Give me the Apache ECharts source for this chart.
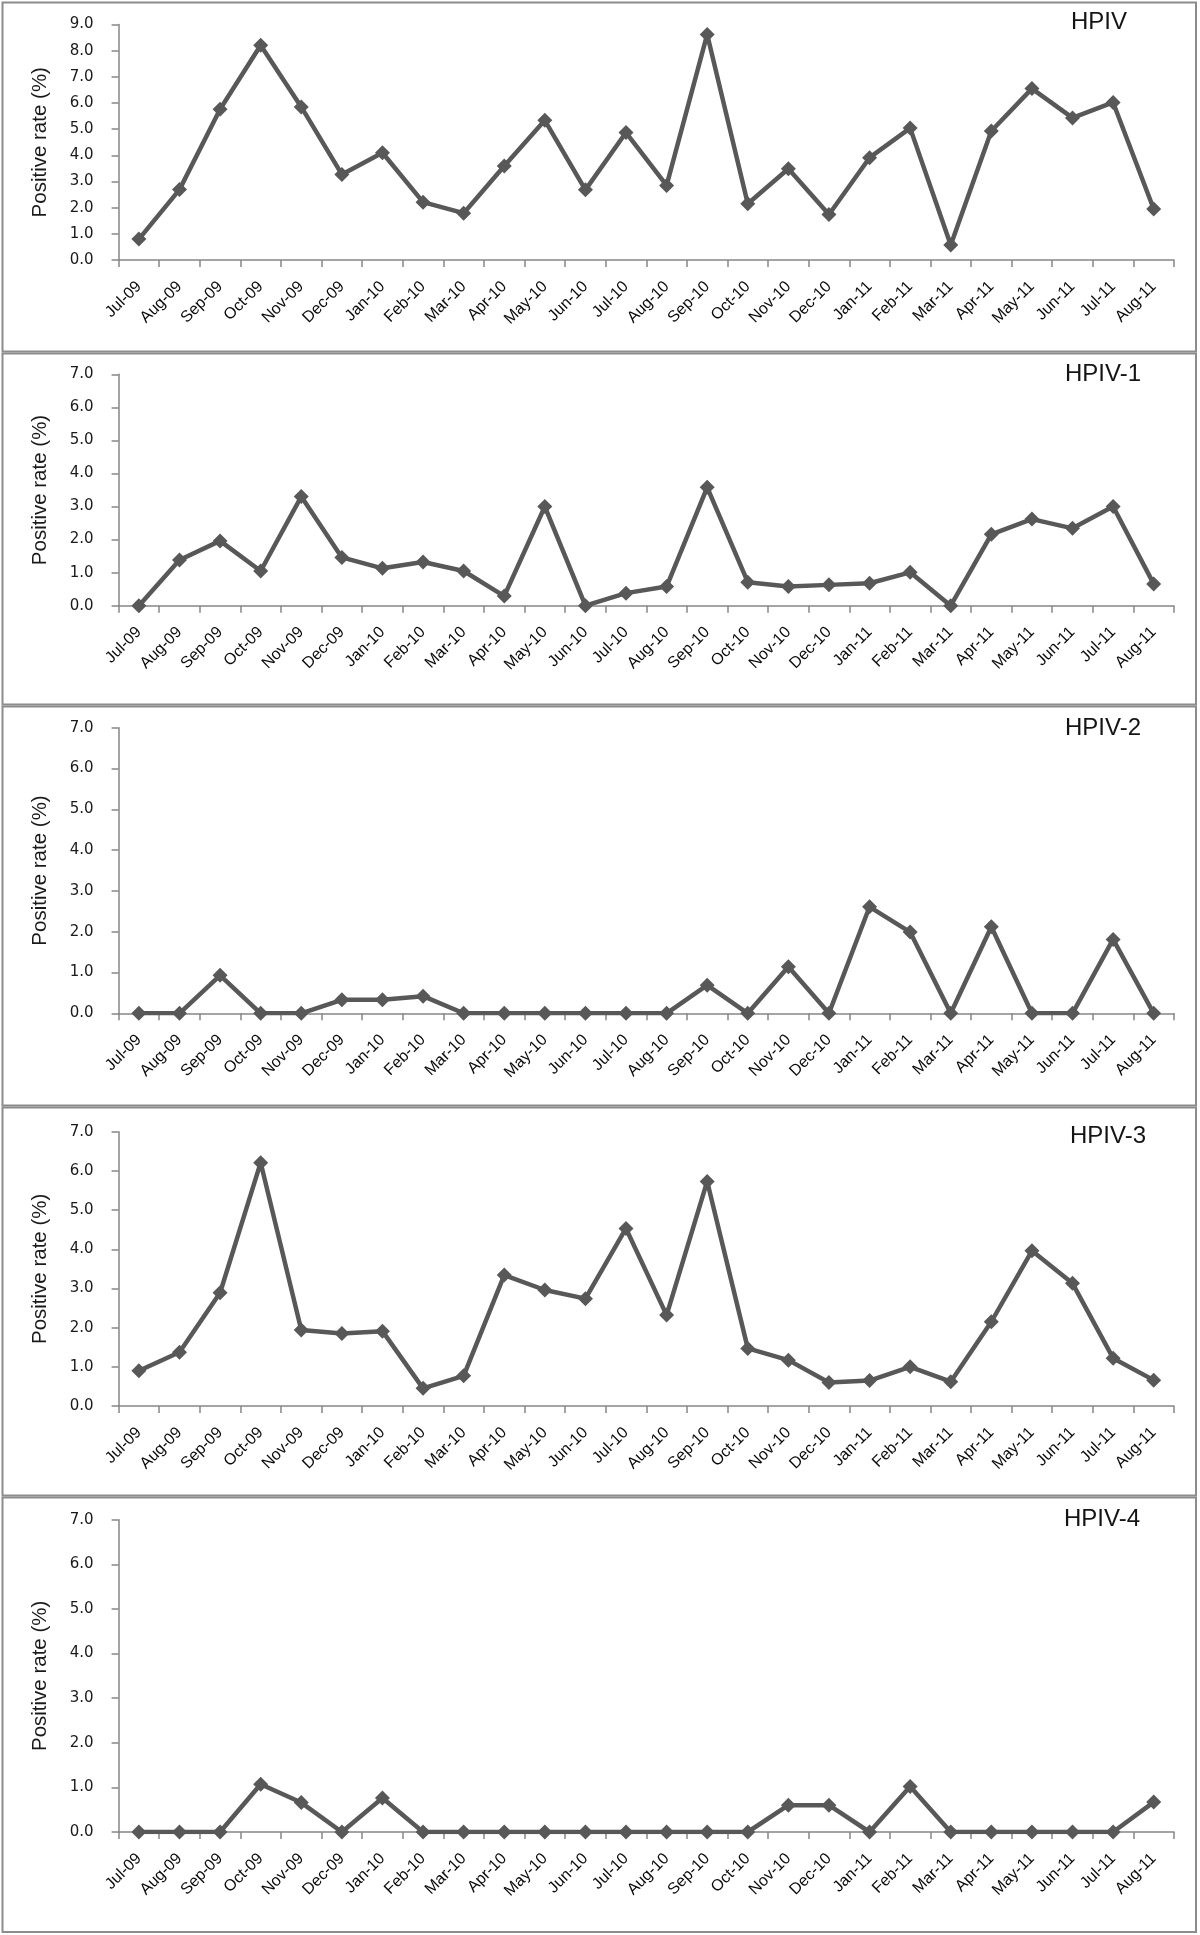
<!DOCTYPE html>
<html>
<head>
<meta charset="utf-8">
<script src="https://cdn.jsdelivr.net/npm/echarts@6/dist/echarts.min.js"></script>
<style>
html,body{margin:0;padding:0;background:#fff;}
#c{width:1200px;height:1935px;}
</style>
</head>
<body>
<div id="c"></div>
<script>
var categories = ['Jul-09','Aug-09','Sep-09','Oct-09','Nov-09','Dec-09','Jan-10','Feb-10','Mar-10','Apr-10','May-10','Jun-10','Jul-10','Aug-10','Sep-10','Oct-10','Nov-10','Dec-10','Jan-11','Feb-11','Mar-11','Apr-11','May-11','Jun-11','Jul-11','Aug-11'];
var hpiv  = [0.80,2.69,5.76,8.21,5.85,3.27,4.10,2.21,1.79,3.59,5.34,2.68,4.87,2.85,8.62,2.15,3.49,1.74,3.91,5.04,0.57,4.93,6.55,5.43,6.02,1.95];
var hpiv1 = [0,1.38,1.96,1.05,3.30,1.46,1.13,1.32,1.05,0.29,3.00,0,0.38,0.58,3.58,0.71,0.58,0.63,0.68,1.01,0,2.16,2.62,2.34,3.00,0.66];
var hpiv2 = [0,0,0.93,0,0,0.33,0.33,0.42,0,0,0,0,0,0,0.69,0,1.14,0,2.61,1.99,0,2.12,0,0,1.81,0];
var hpiv3 = [0.90,1.37,2.89,6.21,1.94,1.85,1.91,0.45,0.77,3.34,2.96,2.74,4.53,2.32,5.73,1.47,1.17,0.60,0.65,1.00,0.62,2.15,3.96,3.13,1.22,0.66];
var hpiv4 = [0,0,0,1.07,0.66,0,0.76,0,0,0,0,0,0,0,0,0,0.60,0.60,0,1.02,0,0,0,0,0,0.67];
var panelNames = ['HPIV','HPIV-1','HPIV-2','HPIV-3','HPIV-4'];
var yMax = [9, 7, 7, 7, 7];
var yInterval = 1;
var yAxisName = 'Positive rate (%)';

var seriesData = [hpiv, hpiv1, hpiv2, hpiv3, hpiv4];

// layout (pixels)
var gridTop = [24.5, 374.3, 727.7, 1131.7, 1519.7];
var gridH   = [235.5, 231.4, 285.6, 274.3, 312.3];
var boxTop  = [2.5, 353.5, 706.5, 1107.5, 1497.5];
var boxBot  = [351.5, 704.5, 1105.5, 1495.5, 1932];
var titlePos = [[1071,10],[1065,362],[1065,716],[1070,1124],[1064,1507]];

var axisColor = '#868686';
var grids = [], xAxes = [], yAxes = [], series = [], titles = [], graphics = [];
for (var i = 0; i < 5; i++) {
  grids.push({left: 118.6, right: 26, top: gridTop[i], height: gridH[i], containLabel: false});
  xAxes.push({
    type: 'category', gridIndex: i, data: categories, boundaryGap: true,
    axisLine: {lineStyle: {color: axisColor, width: 1.5}},
    axisTick: {show: true, alignWithLabel: false, length: 7, lineStyle: {color: axisColor, width: 1.5}},
    axisLabel: {interval: 0, rotate: 45, margin: 24, color: '#0a0a0a', fontSize: 16, fontFamily: 'Liberation Sans, Arial, sans-serif'},
    splitLine: {show: false}
  });
  yAxes.push({
    type: 'value', gridIndex: i, min: 0, max: yMax[i], interval: yInterval,
    name: yAxisName, nameLocation: 'middle', nameGap: 68,
    nameTextStyle: {color: '#1a1a1a', fontSize: 20.5, fontFamily: 'Liberation Sans, Arial, sans-serif'},
    axisLine: {show: true, lineStyle: {color: axisColor, width: 1.5}},
    axisTick: {show: true, length: 7, lineStyle: {color: axisColor, width: 1.5}},
    axisLabel: {margin: 25, color: '#1a1a1a', fontSize: 15, fontFamily: 'DejaVu Sans, sans-serif',
      formatter: function (v) { return v.toFixed(1); }},
    splitLine: {show: false}
  });
  series.push({
    type: 'line', xAxisIndex: i, yAxisIndex: i, data: seriesData[i],
    symbol: 'diamond', symbolSize: 15, showSymbol: true,
    lineStyle: {color: '#585858', width: 4.5},
    itemStyle: {color: '#585858'},
    z: 5, animation: false
  });
  titles.push({
    text: panelNames[i], left: titlePos[i][0], top: titlePos[i][1], padding: 0,
    textStyle: {fontSize: 24, fontWeight: 'normal', color: '#141414', fontFamily: 'Liberation Sans, Arial, sans-serif'}
  });
  graphics.push({
    type: 'rect', silent: true, z: -1,
    shape: {x: 2.5, y: boxTop[i], width: 1193.5, height: boxBot[i] - boxTop[i]},
    style: {fill: 'none', stroke: '#8c8c8c', lineWidth: 2}
  });
}

var chart = echarts.init(document.getElementById('c'), null, {renderer: 'canvas'});
chart.setOption({
  animation: false,
  backgroundColor: '#fff',
  title: titles,
  grid: grids,
  xAxis: xAxes,
  yAxis: yAxes,
  series: series,
  graphic: graphics
});
</script>
</body>
</html>
